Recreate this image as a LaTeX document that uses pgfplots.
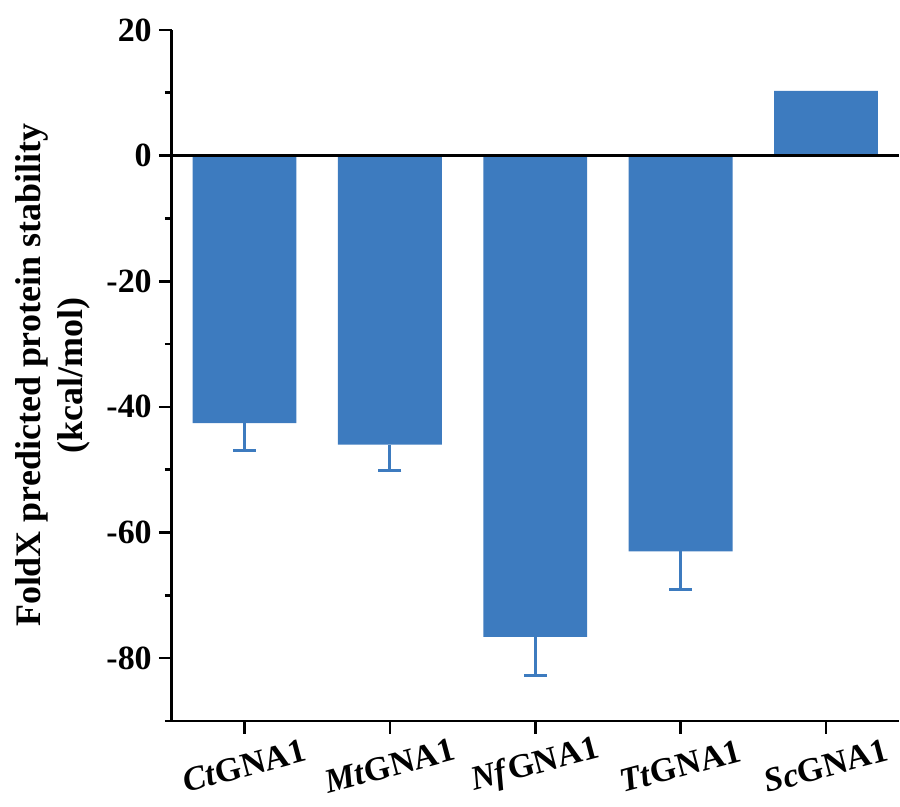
\documentclass[border=0pt]{standalone}
\usepackage{pgfplots}
\pgfplotsset{compat=1.18}
\usepackage{fontspec}
\setmainfont{Liberation Serif}
\definecolor{barblue}{RGB}{61,123,191}
\begin{document}
\begin{tikzpicture}
\begin{axis}[
  scale only axis, width=364pt, height=346pt,
  xmin=-0.5, xmax=4.5, ymin=-90, ymax=20,
  axis x line*=bottom, axis y line*=left,
  axis line style={line width=1.3pt, black, -},
  xtick={0,1,2,3,4},
  xticklabels={\textit{Ct}GNA1, \textit{Mt}GNA1, \textit{Nf}GNA1, \textit{Tt}GNA1, \textit{Sc}GNA1},
  ytick={-80,-60,-40,-20,0,20},
  yticklabels={-80,-60,-40,-20,0,20},
  minor ytick={-90,-70,-50,-30,-10,10},
  tick align=outside,
  xtick pos=left, ytick pos=left,
  major tick length=6.5pt, minor tick length=3.5pt,
  tick style={line width=1.3pt, black},
  yticklabel style={font=\bfseries\fontsize{17}{20}\selectfont},
  xticklabel style={font=\bfseries\fontsize{17}{20}\selectfont, anchor=center, yshift=-16pt, rotate=15},
  every axis y label/.style={at={(axis description cs:-0.1635,0.5)}, anchor=center, rotate=90, align=center, font=\bfseries\fontsize{18}{21}\selectfont},
  ylabel={FoldX predicted protein stability\\(kcal/mol)},
  clip=false,
]
\addplot[ybar, bar width=52pt, fill=barblue, draw=none,
  error bars/.cd, y dir=minus, y explicit,
  error bar style={line width=1.5pt, barblue},
  error mark=-,
  error mark options={line width=1.5pt, mark size=5.75pt, barblue, rotate=90}]
  table[x=x, y=y, y error=e] {
x y e
0 -42.6 4.4
1 -46.0 4.1
2 -76.6 6.1
3 -63.0 6.0
4 10.3 2.0
};
\addplot[black, line width=1.3pt, forget plot] coordinates {(-0.5,0) (4.5,0)};
\end{axis}
\path ([xshift=-86pt,yshift=15pt]current axis.north west) rectangle ([yshift=-35pt]current axis.south east);
\end{tikzpicture}
\end{document}
